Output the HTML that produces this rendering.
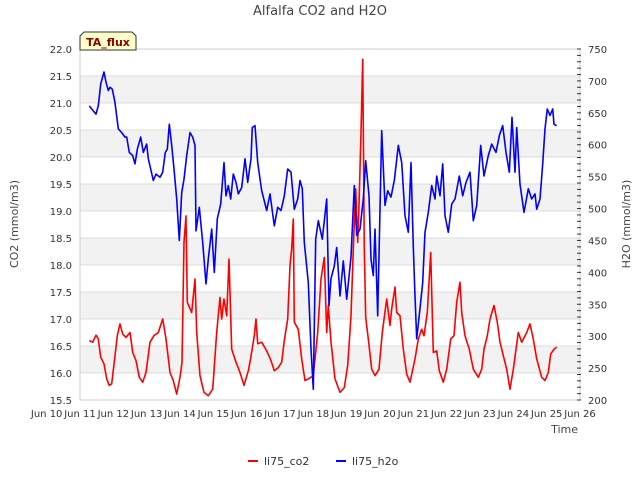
<!DOCTYPE html>
<html><head><meta charset="utf-8"><style>
body{margin:0;background:#fff;font-family:"Liberation Sans","DejaVu Sans",sans-serif}
svg text{font-family:"DejaVu Sans","Liberation Sans",sans-serif}
</style></head><body>
<svg id="chart" width="640" height="480" xmlns="http://www.w3.org/2000/svg">
<text x="320" y="15" text-anchor="middle" font-size="13" fill="#444">Alfalfa CO2 and H2O</text>
<g id="bands"></g>
<g id="grid"></g>
<rect x="80" y="49" width="500" height="351" fill="none" stroke="#ccc"/>
<g id="xaxis"></g>
<g id="yleft"></g>
<g id="yright"></g>
<g id="series"></g>
<text x="578" y="433" text-anchor="end" font-size="11" fill="#444">Time</text>
<text transform="translate(18,224) rotate(-90)" text-anchor="middle" font-size="11" fill="#444">CO2 (mmol/m3)</text>
<text transform="translate(630,224) rotate(-90)" text-anchor="middle" font-size="11" fill="#444">H2O (mmol/m3)</text>
<g>
<path d="M80,50 L80,36 L84,32 L132,32 L136,36 L136,50 Z" fill="#ffffcc" stroke="#333"/>
<text x="108" y="46" text-anchor="middle" font-size="11" font-weight="bold" fill="#8b0000">TA_flux</text>
</g>
<g>
<g><line x1="248" y1="461" x2="258" y2="461" stroke="red" stroke-width="2"/><text x="264" y="465" font-size="11" fill="#333">li75_co2</text></g>
<g><line x1="336" y1="461" x2="346" y2="461" stroke="blue" stroke-width="2"/><text x="352" y="465" font-size="11" fill="#333">li75_h2o</text></g>
</g>
</svg>
<script>
const xTickDays=[10,11,12,13,14,15,16,17,18,19,20,21,22,23,24,25,26];
const yLeftTicks=[15.5,16.0,16.5,17.0,17.5,18.0,18.5,19.0,19.5,20.0,20.5,21.0,21.5,22.0];
const yRightTicks=[200,250,300,350,400,450,500,550,600,650,700,750];
const co2Days=[11.28,11.38,11.48,11.55,11.62,11.72,11.8,11.88,11.95,12.05,12.12,12.2,12.28,12.38,12.5,12.58,12.68,12.78,12.88,12.98,13.1,13.22,13.35,13.48,13.58,13.7,13.8,13.9,14.0,14.06,14.12,14.18,14.22,14.35,14.45,14.5,14.6,14.72,14.85,14.98,15.1,15.2,15.25,15.32,15.4,15.47,15.55,15.68,15.8,15.92,16.05,16.1,16.23,16.28,16.33,16.45,16.6,16.73,16.83,16.95,17.05,17.13,17.23,17.3,17.35,17.4,17.43,17.55,17.65,17.75,17.85,18.0,18.13,18.23,18.33,18.4,18.45,18.53,18.65,18.8,18.93,19.03,19.13,19.2,19.27,19.33,19.37,19.43,19.48,19.53,19.57,19.65,19.75,19.85,19.97,20.07,20.2,20.3,20.35,20.45,20.5,20.6,20.7,20.8,20.9,21.05,21.15,21.25,21.32,21.42,21.52,21.6,21.7,21.78,21.9,22.0,22.12,22.22,22.3,22.4,22.45,22.55,22.68,22.8,22.95,23.05,23.12,23.22,23.3,23.42,23.52,23.6,23.7,23.8,23.9,24.0,24.15,24.25,24.4,24.5,24.6,24.7,24.85,24.95,25.05,25.12,25.22,25.3];
const co2Values=[16.6,16.57,16.7,16.63,16.29,16.17,15.89,15.77,15.8,16.32,16.69,16.91,16.72,16.66,16.75,16.38,16.23,15.92,15.83,16.01,16.57,16.69,16.75,17.0,16.63,16.01,15.86,15.61,15.92,16.2,18.42,18.91,17.31,17.12,17.74,16.75,15.95,15.64,15.58,15.7,16.75,17.4,17.0,17.37,17.06,18.11,16.44,16.2,16.01,15.77,16.04,16.2,16.69,17.0,16.54,16.57,16.41,16.23,16.04,16.1,16.2,16.6,17.0,17.99,18.3,18.85,16.94,16.81,16.26,15.86,15.89,15.95,16.75,17.74,18.14,16.75,17.25,16.57,15.89,15.64,15.73,16.14,17.06,18.3,19.41,18.42,19.1,20.46,21.81,18.3,17.03,16.63,16.07,15.95,16.07,16.75,17.37,16.88,17.19,17.59,17.12,17.06,16.44,15.98,15.83,16.26,16.63,16.81,16.69,17.12,18.23,16.38,16.41,16.04,15.83,16.07,16.63,16.69,17.31,17.68,17.12,16.69,16.44,16.07,15.92,16.07,16.44,16.69,17.0,17.25,16.94,16.57,16.32,16.07,15.7,16.07,16.75,16.57,16.75,16.91,16.63,16.26,15.92,15.86,16.01,16.35,16.44,16.48];
const h2oDays=[11.28,11.35,11.48,11.55,11.62,11.72,11.78,11.85,11.9,11.97,12.05,12.15,12.25,12.35,12.4,12.48,12.58,12.65,12.72,12.82,12.9,13.0,13.05,13.12,13.2,13.28,13.4,13.48,13.56,13.62,13.68,13.75,13.82,13.9,13.98,14.05,14.12,14.2,14.3,14.38,14.45,14.48,14.58,14.68,14.78,14.85,14.95,15.03,15.12,15.22,15.32,15.38,15.45,15.52,15.6,15.68,15.75,15.85,15.95,16.03,16.13,16.17,16.25,16.33,16.45,16.6,16.7,16.83,16.93,17.03,17.13,17.23,17.33,17.43,17.53,17.6,17.67,17.73,17.85,17.93,18.0,18.07,18.15,18.27,18.4,18.47,18.53,18.63,18.7,18.8,18.9,19.0,19.13,19.23,19.3,19.4,19.5,19.57,19.67,19.73,19.8,19.85,19.93,20.05,20.15,20.23,20.33,20.43,20.55,20.65,20.75,20.85,20.93,21.0,21.05,21.1,21.2,21.28,21.35,21.45,21.55,21.65,21.7,21.8,21.88,21.95,22.05,22.15,22.25,22.38,22.48,22.58,22.7,22.8,22.9,23.02,23.12,23.25,23.35,23.48,23.58,23.68,23.78,23.88,23.96,24.05,24.1,24.2,24.32,24.45,24.55,24.65,24.7,24.8,24.88,24.95,25.02,25.1,25.18,25.22,25.3];
const h2oValues=[661,656,648,661,695,714,698,685,690,687,666,625,619,612,612,588,583,570,593,612,588,601,578,562,544,554,549,557,588,593,632,599,562,515,450,525,546,583,619,612,599,465,502,447,382,421,468,400,484,507,572,520,536,515,554,541,523,533,578,541,578,627,630,572,528,497,523,473,502,497,520,562,557,499,515,544,531,447,384,280,217,452,481,452,515,348,390,410,439,363,418,358,424,536,458,468,515,575,520,421,395,468,332,622,505,528,518,544,599,572,489,463,572,440,363,296,343,384,463,494,536,515,551,520,570,489,463,507,515,551,520,541,557,481,505,599,551,583,601,588,614,630,588,557,643,557,627,538,494,531,515,523,499,515,570,625,656,646,656,632,630];

const NS="http://www.w3.org/2000/svg";
const L=80,R=580,T=49,B=400;
const xS=d=>L+(d-11)*(R-L)/15;
const yL=v=>B-(v-15.5)*(B-T)/6.5;
const yR=v=>B-(v-200)*(B-T)/550;
function mk(tag,attrs,parent){const e=document.createElementNS(NS,tag);for(const k in attrs)e.setAttribute(k,attrs[k]);parent.appendChild(e);return e;}
const bands=document.getElementById('bands'),grid=document.getElementById('grid');
for(let v=16;v<22;v+=1){
  const r=mk('rect',{x:L,y:yL(v+0.5),width:R-L,height:yL(v)-yL(v+0.5),fill:'#f2f2f2'},bands);
  
  
}
const yl=document.getElementById('yleft');
yLeftTicks.forEach(v=>{
  const g=mk('line',{x1:L,x2:R,y1:yL(v),y2:yL(v),stroke:'#dcdcdc'},grid);
  
  
  const t=mk('text',{x:72,y:yL(v)+4,'text-anchor':'end','font-size':'10',fill:'#333'},yl);
  
  
  t.textContent=v.toFixed(1);
});
const yr=document.getElementById('yright');
for(let v=200;v<=750;v+=10){
  const tk=mk('line',{x1:R-3,x2:R+1,y1:yR(v),y2:yR(v),stroke:'#333'},yr);
  
  
}
yRightTicks.forEach(v=>{
  const t=mk('text',{x:588,y:yR(v)+4,'font-size':'10',fill:'#333'},yr);
  
  
  t.textContent=v;
});
const xa=document.getElementById('xaxis');
xTickDays.forEach(d=>{
  const t=mk('text',{x:xS(d),y:417,'text-anchor':'middle','font-size':'10',fill:'#333'},xa);
  
  
  t.textContent='Jun '+d;
});
const ser=document.getElementById('series');
const co2Line=mk('polyline',{points:co2Days.map((d,i)=>xS(d).toFixed(1)+','+yL(co2Values[i]).toFixed(1)).join(' '),fill:'none',stroke:'red','stroke-width':'1.6','stroke-linejoin':'round'},ser);


const h2oLine=mk('polyline',{points:h2oDays.map((d,i)=>xS(d).toFixed(1)+','+yR(h2oValues[i]).toFixed(1)).join(' '),fill:'none',stroke:'blue','stroke-width':'1.6','stroke-linejoin':'round'},ser);


</script>
</body></html>
